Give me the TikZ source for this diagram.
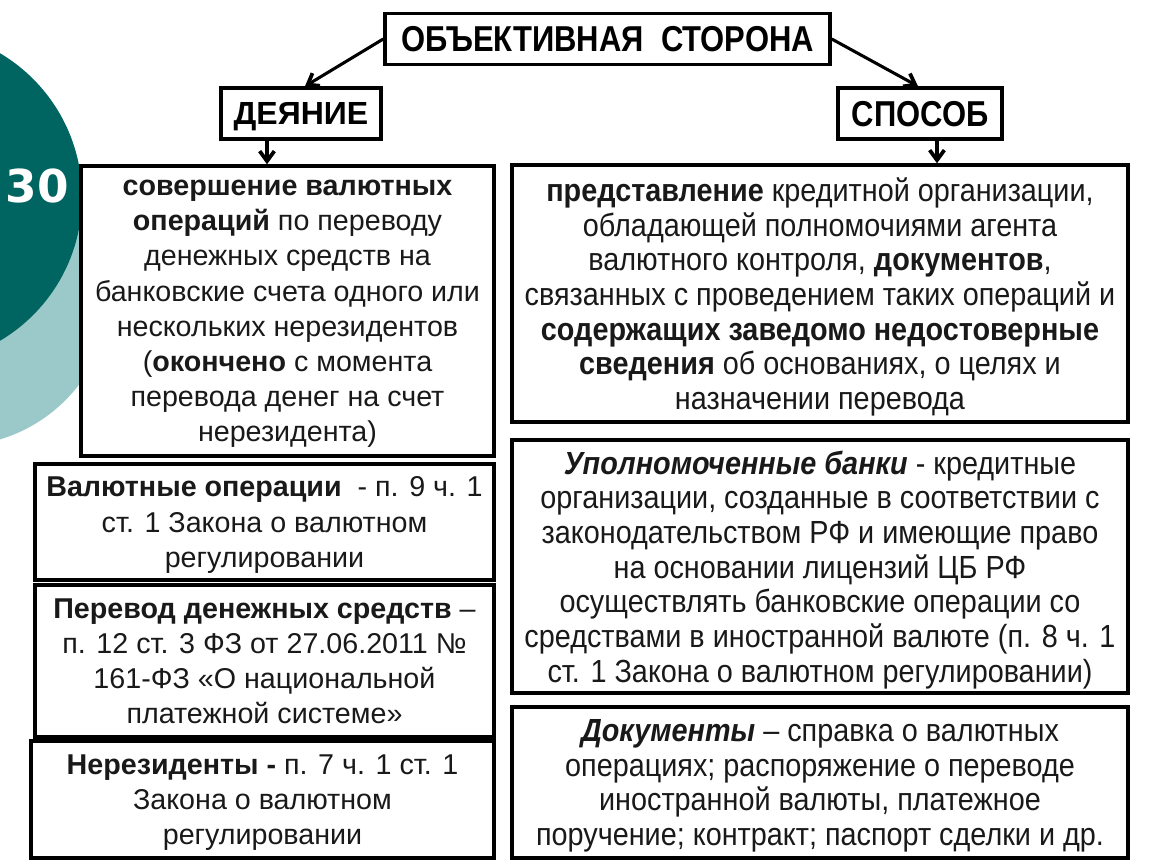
\documentclass[tikz,border=0pt]{standalone}
\usepackage{fontspec}
\setmainfont{Liberation Sans}
\newfontfamily\narrowfont[FakeStretch=0.9]{Liberation Sans}
\newfontfamily\titlefont[FakeStretch=0.86]{Liberation Sans}
\newfontfamily\numfont{DejaVu Sans}
\usetikzlibrary{arrows.meta}
\definecolor{darkteal}{RGB}{0,100,96}
\definecolor{lightteal}{RGB}{155,201,201}
\definecolor{txt}{RGB}{25,25,25}
\tikzset{
  box/.style={draw=black, line width=2.6pt, fill=white, rectangle, inner sep=0pt, align=center, text=txt, text depth=0pt},
  body/.style={font=\fontsize{21.5}{26.4}\selectfont},
  nbody/.style={font=\narrowfont\fontsize{24}{26}\selectfont},
  arr/.style={line width=2.3pt, -{Straight Barb[length=7.5pt,width=11pt,line width=2.8pt]}},
}
\begin{document}
\begin{tikzpicture}[x=0.75pt,y=-0.75pt]
\useasboundingbox (0,0) rectangle (1150,864);
% background circles
\fill[lightteal] (-45,290) circle[radius=156];
\fill[darkteal] (-85,197) circle[radius=167];
\node[text=white, font=\numfont\bfseries\fontsize{34}{40}\selectfont] (num) at (37,186) {30};

% header boxes
\node[box, minimum width=445*0.75pt, minimum height=51*0.75pt,
      font=\titlefont\bfseries\fontsize{27}{30}\selectfont, text=black] (title) at (607.5,39) {ОБЪЕКТИВНАЯ\ \ СТОРОНА};
\node[box, minimum width=160*0.75pt, minimum height=51*0.75pt,
      font=\bfseries\fontsize{24}{28}\selectfont, text=black] (act) at (301,113.5) {ДЕЯНИЕ};
\node[box, minimum width=164*0.75pt, minimum height=51*0.75pt,
      font=\titlefont\bfseries\fontsize{27}{30}\selectfont, text=black] (method) at (920,113.5) {СПОСОБ};

% left column
\node[box, body, minimum width=413*0.75pt, minimum height=290*0.75pt] (actbox) at (287.5,311) {%
\textbf{совершение валютных}\\
\textbf{операций} по переводу\\
денежных средств на\\
банковские счета одного или\\
нескольких нерезидентов\\
(\textbf{окончено} с момента\\
перевода денег на счет\\
нерезидента)};

\node[box, body, minimum width=459*0.75pt, minimum height=116*0.75pt] (b1) at (264.5,522) {%
\textbf{Валютные операции}\ \ - п. 9 ч. 1\\
ст. 1 Закона о валютном\\
регулировании};

\node[box, body, minimum width=459*0.75pt, minimum height=152*0.75pt] (b2) at (264.5,661) {%
\textbf{Перевод денежных средств} –\\
п. 12 ст. 3 ФЗ от 27.06.2011 №\\
161-ФЗ «О национальной\\
платежной системе»};

\node[box, body, minimum width=463*0.75pt, minimum height=117*0.75pt] (b3) at (262.5,799.5) {%
\textbf{Нерезиденты -} п. 7 ч. 1 ст. 1\\
Закона о валютном\\
регулировании};

% right column
\node[box, nbody, minimum width=616*0.75pt, minimum height=257*0.75pt] (r1) at (820,293.5) {%
\textbf{представление} кредитной организации,\\
обладающей полномочиями агента\\
валютного контроля, \textbf{документов},\\
связанных с проведением таких операций и\\
\textbf{содержащих заведомо недостоверные}\\
\textbf{сведения} об основаниях, о целях и\\
назначении перевода};

\node[box, nbody, minimum width=616*0.75pt, minimum height=253*0.75pt] (r2) at (820,566.5) {%
\textbf{\textit{Уполномоченные банки}} - кредитные\\
организации, созданные в соответствии с\\
законодательством РФ и имеющие право\\
на основании лицензий ЦБ РФ\\
осуществлять банковские операции со\\
средствами в иностранной валюте (п. 8 ч. 1\\
ст. 1 Закона о валютном регулировании)};

\node[box, nbody, minimum width=616*0.75pt, minimum height=151*0.75pt] (r3) at (820,782.5) {%
\textbf{\textit{Документы}} – справка о валютных\\
операциях; распоряжение о переводе\\
иностранной валюты, платежное\\
поручение; контракт; паспорт сделки и др.};

% connectors
\draw[arr] (title.west) -- ([xshift=4*0.75pt]act.north);
\draw[arr] (title.east) -- ([xshift=-2*0.75pt]method.north);
\draw[arr] ([xshift=-34*0.75pt]act.south) -- ([xshift=-34*0.75pt]act.south |- actbox.north);
\draw[arr] ([xshift=17*0.75pt]method.south) -- ([xshift=17*0.75pt]method.south |- r1.north);
\end{tikzpicture}
\end{document}
